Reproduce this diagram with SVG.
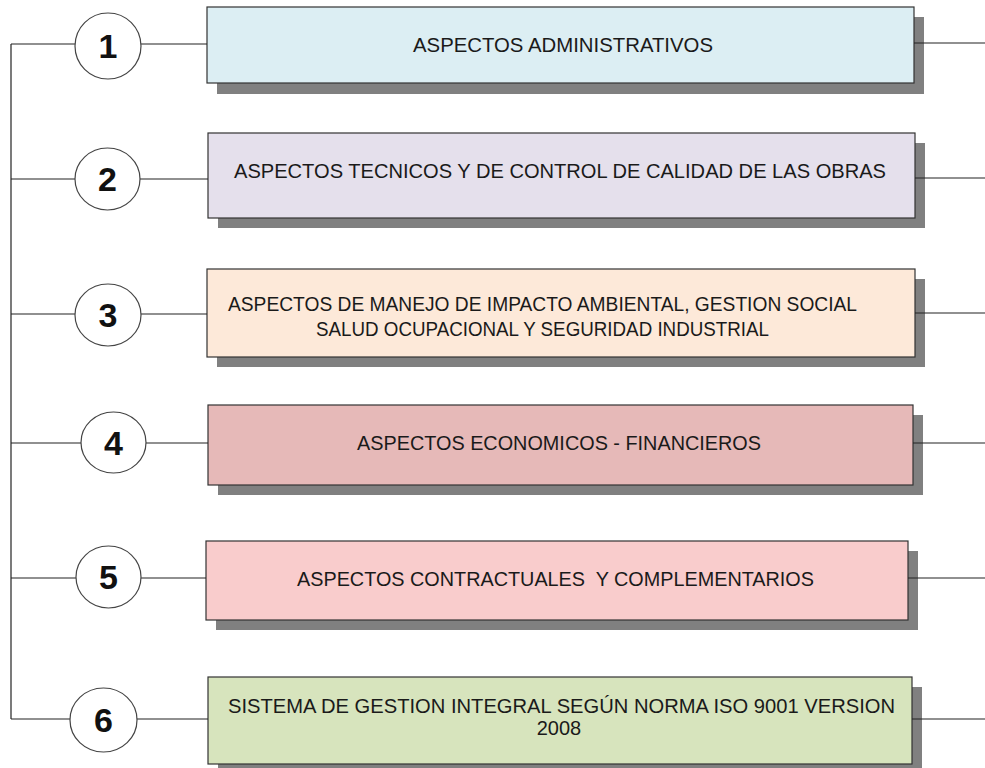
<svg xmlns="http://www.w3.org/2000/svg" width="985" height="768" viewBox="0 0 985 768">
<style>
.shadow{fill:#808080}
.box{stroke:#333333;stroke-width:1.2}
.lbl{font-family:"Liberation Sans",Arial,sans-serif;font-size:20px;fill:#1a1a1a;text-anchor:middle;white-space:pre}
.num{font-family:"Liberation Sans",Arial,sans-serif;font-size:34px;font-weight:bold;fill:#111111;text-anchor:middle}
.circ{fill:#ffffff;stroke:#444444;stroke-width:1.2}
.con{stroke:#222222;stroke-width:1.2;fill:none}
</style>
<rect width="985" height="768" fill="#ffffff"/>
<g id="node1">
<rect class="shadow" x="217" y="17" width="707" height="77"/>
<rect class="box" x="207" y="7" width="707" height="76" fill="#DCEEF3"/>
<text class="lbl" x="563" y="52" textLength="300" lengthAdjust="spacingAndGlyphs">ASPECTOS ADMINISTRATIVOS</text>
</g>
<g id="node2">
<rect class="shadow" x="218" y="143" width="707" height="85"/>
<rect class="box" x="208" y="133" width="707" height="85" fill="#E5E0EC"/>
<text class="lbl" x="560" y="178" textLength="652" lengthAdjust="spacingAndGlyphs">ASPECTOS TECNICOS Y DE CONTROL DE CALIDAD DE LAS OBRAS</text>
</g>
<g id="node3">
<rect class="shadow" x="217" y="279" width="708" height="88"/>
<rect class="box" x="207" y="269" width="708" height="88" fill="#FDE9D9"/>
<text class="lbl" x="542.5" y="311" textLength="629" lengthAdjust="spacingAndGlyphs">ASPECTOS DE MANEJO DE IMPACTO AMBIENTAL, GESTION SOCIAL</text>
<text class="lbl" x="542.5" y="336" textLength="453" lengthAdjust="spacingAndGlyphs">SALUD OCUPACIONAL Y SEGURIDAD INDUSTRIAL</text>
</g>
<g id="node4">
<rect class="shadow" x="218" y="415" width="705" height="80"/>
<rect class="box" x="208" y="405" width="705" height="80" fill="#E6B9B8"/>
<text class="lbl" x="559" y="450" textLength="404" lengthAdjust="spacingAndGlyphs">ASPECTOS ECONOMICOS - FINANCIEROS</text>
</g>
<g id="node5">
<rect class="shadow" x="216" y="551" width="702" height="79"/>
<rect class="box" x="206" y="541" width="702" height="79" fill="#F9CCCC"/>
<text class="lbl" x="555.5" y="586" textLength="517" lengthAdjust="spacingAndGlyphs" xml:space="preserve">ASPECTOS CONTRACTUALES  Y COMPLEMENTARIOS</text>
</g>
<g id="node6">
<rect class="shadow" x="218" y="687" width="704" height="87"/>
<rect class="box" x="208" y="677" width="704" height="87" fill="#D7E4BD"/>
<text class="lbl" x="561.5" y="713" textLength="667" lengthAdjust="spacingAndGlyphs">SISTEMA DE GESTION INTEGRAL SEGÚN NORMA ISO 9001 VERSION</text>
<text class="lbl" x="559" y="735">2008</text>
</g>
<g id="connectors">
<path class="con" d="M11,44 V719"/>
<path class="con" d="M11,44 H75 M141,44 H207 M914,43 H985"/>
<path class="con" d="M11,179 H75 M140,179 H208 M915,178 H985"/>
<path class="con" d="M11,314 H75 M141,314 H207 M915,313 H985"/>
<path class="con" d="M11,443 H81 M146,443 H208 M913,443 H985"/>
<path class="con" d="M11,578 H76 M141,578 H206 M908,578 H985"/>
<path class="con" d="M11,719 H70 M137,719 H208 M912,719 H985"/>
</g>
<g id="circle1"><ellipse class="circ" cx="108" cy="46" rx="33" ry="33"/><text class="num" x="108" y="58">1</text></g>
<g id="circle2"><ellipse class="circ" cx="107.5" cy="179" rx="32.5" ry="31"/><text class="num" x="107.5" y="191">2</text></g>
<g id="circle3"><ellipse class="circ" cx="108" cy="315" rx="33" ry="31"/><text class="num" x="108" y="327">3</text></g>
<g id="circle4"><ellipse class="circ" cx="113.5" cy="442.5" rx="32.5" ry="30.5"/><text class="num" x="113.5" y="454.5">4</text></g>
<g id="circle5"><ellipse class="circ" cx="108.5" cy="577" rx="32.5" ry="31"/><text class="num" x="108.5" y="589">5</text></g>
<g id="circle6"><ellipse class="circ" cx="103.5" cy="720" rx="33.5" ry="32"/><text class="num" x="103.5" y="732">6</text></g>
</svg>
